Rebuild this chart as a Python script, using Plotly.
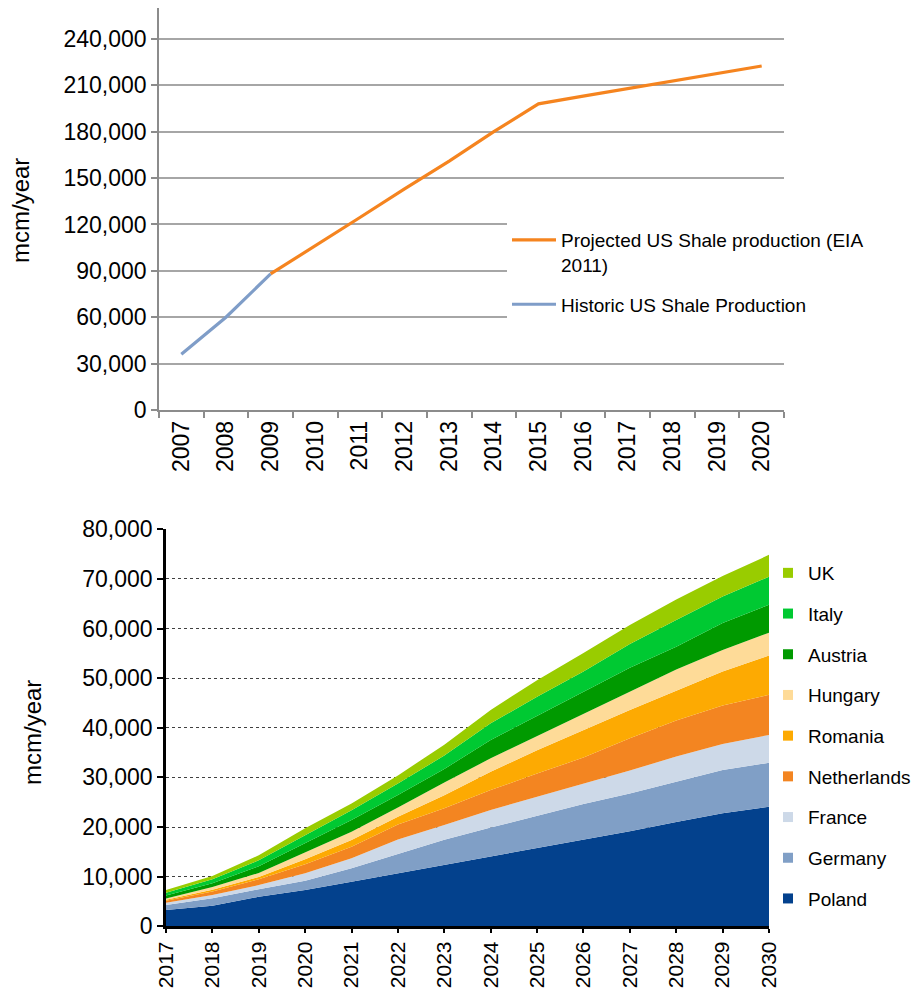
import plotly.graph_objects as go

# ---------------- Data: top chart ----------------
years_top = ["2007", "2008", "2009", "2010", "2011", "2012", "2013",
             "2014", "2015", "2016", "2017", "2018", "2019", "2020"]
historic_years = ["2007", "2008", "2009"]
historic_values = [36000, 60000, 88000]
projected_years = ["2009", "2010", "2011", "2012", "2013", "2014", "2015",
                   "2016", "2017", "2018", "2019", "2020"]
projected_values = [88000, 106000, 124500, 143000, 161000, 180000, 198000,
                    203000, 208000, 213000, 218000, 222500]
top_ticks = [0, 30000, 60000, 90000, 120000, 150000, 180000, 210000, 240000]

# ---------------- Data: bottom chart ----------------
years_bot = list(range(2017, 2031))
poland      = [3300, 4150, 5950, 7300, 9000, 10700, 12350, 14050, 15700, 17400, 19150, 21000, 22800, 24100]
germany     = [1000, 1500, 1500, 1900, 2700, 3800, 5100, 5850, 6500, 7250, 7600, 8150, 8700, 8850]
france      = [450, 650, 850, 1500, 2000, 3000, 2950, 3550, 3900, 4050, 4650, 5050, 5250, 5600]
netherlands = [400, 700, 1200, 1800, 2350, 3000, 3400, 4000, 4700, 5300, 6500, 7250, 7750, 8100]
romania     = [200, 350, 450, 1000, 1350, 1600, 2600, 3700, 4700, 5600, 5700, 6000, 6850, 7900]
hungary     = [250, 550, 800, 1400, 1650, 1850, 2600, 2700, 2800, 3150, 3550, 4300, 4350, 4600]
austria     = [600, 800, 1350, 1800, 2350, 2500, 2700, 3700, 4050, 4550, 4950, 4600, 5400, 5650]
italy       = [550, 800, 1200, 1650, 2000, 2350, 2700, 3350, 3900, 4050, 4800, 5350, 5350, 5650]
uk          = [550, 650, 1000, 1400, 1350, 1600, 2200, 2700, 3350, 3700, 3800, 4150, 4150, 4400]
bot_ticks = [0, 10000, 20000, 30000, 40000, 50000, 60000, 70000, 80000]

countries = ["Poland", "Germany", "France", "Netherlands", "Romania",
             "Hungary", "Austria", "Italy", "UK"]
series = [poland, germany, france, netherlands, romania, hungary, austria, italy, uk]
colors = ["#03418D", "#809FC6", "#CDD9E8", "#F38521", "#FDAA02",
          "#FEDB98", "#009A00", "#00C932", "#99CC00"]

W, H = 915, 989
FONT = "Arial, Liberation Sans, sans-serif"

def px_x(p):
    return p / W

def px_y(p):
    return 1 - p / H

fig = go.Figure()

# ---- top chart lines ----
fig.add_trace(go.Scatter(
    x=projected_years, y=projected_values, mode="lines",
    line=dict(color="#F5841F", width=3.2),
    name="Projected US Shale production (EIA<br>2011)",
    xaxis="x", yaxis="y", legend="legend", legendgroup="p",
))
fig.add_trace(go.Scatter(
    x=historic_years, y=historic_values, mode="lines",
    line=dict(color="#7F9DC8", width=3.2),
    name="Historic US Shale Production",
    xaxis="x", yaxis="y", legend="legend", legendgroup="h",
))

# ---- bottom stacked areas ----
for name, vals, col in zip(countries, series, colors):
    fig.add_trace(go.Scatter(
        x=years_bot, y=vals, mode="lines", stackgroup="one",
        line=dict(width=0, color=col), fillcolor=col,
        name=name, showlegend=False, xaxis="x2", yaxis="y2",
    ))
# legend entries (UK on top)
for name, col in reversed(list(zip(countries, colors))):
    fig.add_trace(go.Scatter(
        x=[None], y=[None], mode="markers",
        marker=dict(symbol="square", size=10, color=col),
        name=name, xaxis="x2", yaxis="y2", legend="legend2", legendgroup=name,
    ))

fig.update_layout(
    width=W, height=H,
    margin=dict(l=0, r=0, t=0, b=0, autoexpand=False),
    paper_bgcolor="white", plot_bgcolor="white",
    font=dict(family=FONT, color="black"),
    xaxis=dict(
        domain=[px_x(159), px_x(784)], anchor="y", type="category",
        categoryorder="array", categoryarray=years_top,
        range=[-0.5, 13.5], tickson="boundaries", automargin=False,
        showgrid=False, showline=True, linecolor="#8C8C8C", linewidth=1.5,
        ticks="outside", ticklen=6, tickcolor="#8C8C8C", tickwidth=1.5,
        tickangle=-90, tickfont=dict(size=23, family=FONT), fixedrange=True,
    ),
    yaxis=dict(
        domain=[px_y(410), px_y(8)], anchor="x", range=[0, 260000],
        tickvals=top_ticks, tickformat=",d", automargin=False,
        showgrid=True, gridcolor="#A6A6A6", gridwidth=1.5, zeroline=False,
        showline=True, linecolor="#8C8C8C", linewidth=1.5,
        ticks="outside", ticklen=6, tickcolor="#8C8C8C", tickwidth=1.5,
        tickfont=dict(size=23, family=FONT), fixedrange=True,
    ),
    xaxis2=dict(
        domain=[px_x(166), px_x(769)], anchor="y2", range=[2017, 2030],
        tickvals=years_bot, tickangle=-90, showgrid=False, automargin=False,
        showline=True, linecolor="black", linewidth=2.5,
        ticks="outside", ticklen=4, tickcolor="black", tickwidth=1.5,
        tickfont=dict(size=21, family=FONT), fixedrange=True,
    ),
    yaxis2=dict(
        domain=[px_y(926.3), px_y(529.3)], anchor="x2", range=[0, 80000],
        tickvals=bot_ticks, tickformat=",d", automargin=False,
        showgrid=True, gridcolor="#404040", gridwidth=1, griddash="dot",
        zeroline=False, showline=True, linecolor="black", linewidth=2.5,
        ticks="outside", ticklen=6, tickcolor="black", tickwidth=1.5,
        tickfont=dict(size=23, family=FONT), fixedrange=True,
    ),
    legend=dict(
        x=px_x(507), y=px_y(221), xanchor="left", yanchor="top",
        bgcolor="white", borderwidth=0, font=dict(size=19, family=FONT),
        valign="top", tracegroupgap=12, itemwidth=44, traceorder="grouped",
    ),
    legend2=dict(
        x=px_x(768), y=px_y(554), xanchor="left", yanchor="top",
        bgcolor="rgba(0,0,0,0)", borderwidth=0, font=dict(size=19, family=FONT),
        tracegroupgap=13, traceorder="grouped",
    ),
    annotations=[
        dict(text="mcm/year", x=px_x(20), y=px_y(211), xref="paper", yref="paper",
             showarrow=False, textangle=-90, font=dict(size=24, family=FONT),
             xanchor="center", yanchor="middle"),
        dict(text="mcm/year", x=px_x(32), y=px_y(733), xref="paper", yref="paper",
             showarrow=False, textangle=-90, font=dict(size=24, family=FONT),
             xanchor="center", yanchor="middle"),
    ],
)

fig.write_html(
    "out.html",
    config={"displayModeBar": False},
    post_script="document.body.style.margin='0px';document.body.style.padding='0px';",
)
